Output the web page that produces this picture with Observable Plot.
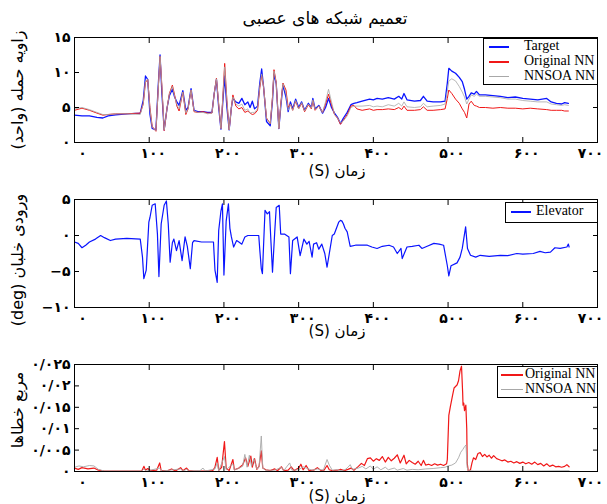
<!DOCTYPE html>
<html><head><meta charset="utf-8">
<script src="https://cdn.jsdelivr.net/npm/d3@7"></script>
<script src="https://cdn.jsdelivr.net/npm/@observablehq/plot@0.6"></script>
<style>
body{margin:0;background:#fff;}
#root{position:relative;width:607px;height:504px;overflow:hidden;background:#fff;}
#root svg{position:absolute;left:0;top:0;}
.fa{position:absolute;font-family:"DejaVu Sans";direction:rtl;white-space:nowrap;color:#000;transform:translate(-50%,-50%);}
.rot{transform:translate(-50%,-50%) rotate(-90deg);}
.leg{position:absolute;border:1px solid #000;background:#fff;font-family:"Liberation Serif";color:#000;box-sizing:border-box;}
.row{position:absolute;left:0;right:0;height:16px;}
.row .ln{position:absolute;top:7px;}
.row .tx{position:absolute;top:-1px;font-size:14px;line-height:16px;white-space:nowrap;}
</style></head><body><div id="root"></div>
<script>
// ---------- data ----------
const t1 = [0,10,20,30,38,45,55,70,88,92,
95,98,101,104,109,112,114.5,117,120,124,
127,131,134,137,140,145,149,152,156,160,
165,172,178,184,187,190,193,196,198,201,
204,207,210,212,216,220,224,228,232,235,
238,241,245,248,250.5,253,257,262,265,267,
270,273.5,276,279,283,286,289,292,296,300,
304,308,313,317,319,322,327,332,336,340,
344,348,352,356,360,365,370,374,378,385,
395,400,405,412,420,428,434,438,441,445,
455,463,467,472,480,490,496,499,501,505,
510,515,519,522,525,528,531,535,538,542,
550,560,570,580,590,600,610,620,632,638,
645,652,656,661];
const target = [3.9,3.8,3.8,3.6,3.5,3.8,3.95,4.1,4.2,6.0,
9.5,9.0,4.0,2.0,1.8,8.0,12.5,7.0,1.8,5.0,
6.7,7.6,6.5,5.8,5.3,7.4,4.6,5.0,7.7,4.6,
4.4,4.4,4.3,4.3,7.0,9.0,5.0,1.9,5.0,9.5,
5.0,1.8,5.0,6.3,5.8,5.6,6.3,5.4,5.8,5.0,
5.9,4.8,5.2,8.5,10.5,8.0,3.0,2.4,6.0,9.8,
8.4,2.0,5.0,8.2,6.5,4.4,5.8,4.8,6.2,5.0,
5.8,4.6,5.6,5.0,6.3,4.8,5.3,4.2,5.0,6.3,
5.0,4.2,3.6,2.7,3.5,4.3,5.4,5.6,5.7,5.9,
6.2,6.1,6.3,6.2,6.4,6.2,6.6,6.2,7.0,6.1,
5.9,6.0,6.6,5.9,5.8,5.8,5.9,8.5,10.6,10.2,
9.9,9.3,8.7,7.6,6.2,6.6,7.1,6.9,7.3,6.8,
6.8,6.7,6.6,6.4,6.5,6.3,6.2,6.1,6.3,5.8,
5.6,5.5,5.7,5.6];
const original = [4.6,4.9,4.6,4.2,3.9,4.0,4.1,4.1,4.2,5.5,
8.6,9.0,5.0,2.3,1.6,7.5,12.3,8.0,1.7,5.0,
7.0,8.2,6.8,5.2,4.5,7.2,4.0,4.8,7.5,4.4,
4.3,4.4,4.2,4.2,7.0,9.2,5.5,2.0,5.5,11.3,
6.0,1.8,5.0,6.8,5.2,4.8,5.0,4.3,4.5,4.2,
4.0,4.1,4.6,7.8,9.6,8.0,3.5,2.7,6.5,10.4,
8.6,2.0,5.5,8.5,7.5,5.0,5.5,4.6,5.9,4.8,
5.6,4.4,5.4,4.8,6.0,4.6,5.2,4.3,5.5,6.9,
5.4,4.0,3.5,2.6,3.2,4.0,5.2,5.3,4.8,4.6,
4.8,4.6,4.7,4.7,4.8,4.7,5.0,4.7,5.2,4.6,
4.6,4.7,5.1,4.6,4.6,4.7,4.8,6.3,7.5,7.0,
6.2,5.6,4.8,4.3,3.5,5.5,5.9,5.3,5.2,5.0,
5.0,4.9,5.0,4.9,4.9,4.8,4.9,4.8,4.7,4.6,
4.6,4.6,4.5,4.5];
const nnsoa = [4.8,5.0,4.7,4.3,4.0,4.0,4.1,4.1,4.0,5.5,
8.8,9.0,4.8,2.2,1.7,7.5,12.3,8.0,1.8,5.0,
6.9,8.0,6.6,5.4,4.8,7.2,4.2,4.8,7.5,4.5,
4.3,4.3,4.1,4.2,7.0,9.1,5.5,2.0,5.5,10.8,
6.0,1.8,5.0,6.5,5.5,5.2,5.5,4.6,4.8,4.2,
4.3,4.3,4.8,8.0,9.8,8.0,3.4,2.7,6.4,10.2,
8.5,2.0,5.2,8.4,7.0,4.6,5.5,4.6,6.0,4.8,
5.7,4.5,5.5,4.9,6.1,4.7,5.2,4.3,5.8,7.6,
5.8,4.0,3.5,2.8,3.1,3.8,5.0,5.2,5.2,5.2,
5.3,5.1,5.2,5.1,5.4,5.2,5.6,5.2,5.8,5.1,
5.0,5.1,5.6,5.1,5.2,5.3,5.5,7.3,8.8,9.1,
8.8,8.0,7.2,6.5,5.5,6.2,6.8,6.6,6.9,6.6,
6.6,6.5,6.4,6.2,6.2,6.0,5.9,5.8,5.8,5.5,
5.4,5.3,5.4,5.3];

const t2 = [0,5,10,15,20,28,35,40,48,55,
70,88,91,92.8,96,99.5,101,104,108,111,
113,116,120,123,125.5,128,131,133,136.5,140,
144,148,151,155,158,160,170,186,188,191,
193,196,198,200,203,206,208,210,213,217,
220,224,228,232,246.6,248,250,251.5,255,258,
261,263,265,268,270,274,276,281,287,289,
292,298,302,307,311,314,318,320,324,327,
331,335,338,342,345,347.7,353.6,356,358,360,
362,365,369,376,382,392,398,405,412,421,
427,432,437,438.6,445,452,461,465,472,481,
488,494,499,501,504,512,516,519,523.5,526,
530,537,543,555,570,580,592,600,614,623,
630,637,643,650,659,661,662];
const elevator = [-0.9,-1.1,-1.7,-1.35,-0.9,-0.5,0,-0.3,-0.7,-0.5,
-0.4,-0.5,-3.0,-6.0,-4.8,1.85,2.5,4.2,4.4,0.2,
-5.7,1.6,4.2,4.8,1.6,-3.7,-1.0,-0.5,-2.1,-0.7,
-3.5,-0.2,-1.5,-4.6,-1.0,-0.7,-0.9,-0.9,-4.8,-6.5,
0.7,3.4,4.4,-5.5,2.0,4.4,1.0,-0.2,-1.6,-0.7,
-0.9,-1.2,-0.2,0,0,-2.0,-4.6,-5.3,3.5,3.0,
3.3,-1.0,-5.1,0.5,3.9,4.2,0.2,0.2,-0.2,-5.3,
-0.7,-0.2,-2.8,-0.5,-1.2,-0.8,-3.0,-1.2,-1.0,-1.9,
-1.2,-2.5,-4.4,-1.9,0,0.2,1.85,2.1,2.0,1.6,
1.0,0.5,-1.5,-1.35,-1.35,-1.35,-1.6,-1.8,-1.5,-1.35,
-1.6,-2.5,-1.8,-3.2,-1.6,-1.5,-1.35,-1.8,-1.5,-1.1,
-1.2,-1.35,-4.2,-5.6,-4.2,-3.8,-3.0,-1.8,1.2,-1.8,
-2.75,-3.0,-2.75,-2.9,-2.75,-2.8,-2.5,-2.6,-2.5,-2.2,
-2.4,-2.3,-1.7,-1.8,-1.6,-1.2,-1.6];

const t3a = [0,5,10,18,26,32,40,60,90,93,
95,98,102,110,114,116,125,130,135,142,
145,150,153,160,175,185,188,191,193,197,
200.7,203,207,212,214,220,225,229,232,236,
238,241,244,247,250,252,256,262,268,272,
277,280,286,290,294,300,303,306,310,314,
320,325,330,334,338,341,345,352,356,361,
366,370,374,380,384,388,392,396,400,404,
408,412,416,420,424,428,432,436,441,444,
448,452,456,460,464,467,470,474,478,482,
486,490,494,498,499,501,503,506,508,512,
514,516,518,519.5,520,521,522,523.8,525,525.6,
527,530,532,534,537,540,543,546,549,552,
555,558,561,565,568,572,576,580,584,588,
592,596,600,604,608,612,616,620,624,628,
632,636,640,644,648,652,656,659,662];
const errOriginal = [0.0008,0.0005,0.0009,0.0006,0.0008,0.0003,0.0001,0.0001,0.0001,0.0012,
0.0003,0.0007,0.0002,0.0003,0.0020,0.0002,0.0002,0.0006,0.0001,0.0009,
0.0002,0.0008,0.0002,0.0001,0.0001,0.0002,0.0010,0.0033,0.0003,0.0010,
0.0070,0.0008,0.0002,0.0028,0.0004,0.0008,0.0015,0.0032,0.0012,0.0036,
0.0010,0.0030,0.0005,0.0012,0.0048,0.0008,0.0004,0.0002,0.0006,0.0002,
0.0011,0.0002,0.0003,0.0011,0.0002,0.0008,0.0017,0.0004,0.0014,0.0002,
0.0003,0.0009,0.0002,0.0003,0.0014,0.0004,0.0002,0.0003,0.0005,0.0002,
0.0005,0.0008,0.0003,0.0012,0.0019,0.0014,0.0030,0.0032,0.0024,0.0030,
0.0026,0.0035,0.0022,0.0033,0.0025,0.0031,0.0039,0.0020,0.0038,0.0018,
0.0026,0.0021,0.0017,0.0024,0.0014,0.0026,0.0015,0.0017,0.0014,0.0018,
0.0015,0.0017,0.0014,0.0018,0.0028,0.0131,0.0151,0.0178,0.0195,0.0202,
0.0212,0.0235,0.0246,0.0185,0.0155,0.0160,0.0142,0.0155,0.0100,0.0020,
0.0001,0.0004,0.0020,0.0032,0.0028,0.0042,0.0044,0.0035,0.0040,0.0034,
0.0038,0.0031,0.0037,0.0030,0.0028,0.0025,0.0027,0.0022,0.0024,0.0020,
0.0023,0.0019,0.0022,0.0018,0.0021,0.0017,0.0022,0.0016,0.0019,0.0013,
0.0018,0.0012,0.0015,0.0011,0.0012,0.0010,0.0012,0.0016,0.0011];
const t3b = [0,6,12,20,26,32,40,90,93,96,
114,117,142,145,150,153,168,172,175,188,
191,193,200.7,203,212,214,225,228,231,234,
237,240,244,247,250,252,256,268,277,280,
288,291,300,306,310,318,325,333,338,341,
345,352,357,362,366,369,372,380,385,390,
396,400,405,410,416,420,428,432,440,445,
452,460,470,480,490,496,500,505,510,514,
517,520,522,524,525.5,527,535,560,600,662];
const errNnsoa = [0.0010,0.0013,0.0011,0.0014,0.0013,0.0005,0.0001,0.0001,0.0006,0.0001,
0.0008,0.0001,0.0006,0.0001,0.0005,0.0001,0.0002,0.0008,0.0001,0.0006,
0.0020,0.0002,0.0035,0.0004,0.0018,0.0003,0.0012,0.0040,0.0010,0.0038,
0.0012,0.0030,0.0006,0.0010,0.0083,0.0008,0.0003,0.0003,0.0010,0.0002,
0.0020,0.0003,0.0004,0.0011,0.0008,0.0003,0.0006,0.0003,0.0028,0.0015,
0.0003,0.0004,0.0002,0.0004,0.0010,0.0016,0.0005,0.0008,0.0012,0.0006,
0.0013,0.0005,0.0011,0.0004,0.0010,0.0004,0.0008,0.0003,0.0007,0.0003,
0.0005,0.0004,0.0006,0.0007,0.0009,0.0010,0.0013,0.0015,0.0020,0.0032,
0.0045,0.0052,0.0058,0.0062,0.0010,0.0002,0.0001,0.0001,0.0001,0.0002];

const xTicks = [0,100,200,300,400,500,600,700];
const xTickLabels = ["۰","۱۰۰","۲۰۰","۳۰۰","۴۰۰","۵۰۰","۶۰۰","۷۰۰"];
const y1Ticks = [0,5,10,15];
const y1TickLabels = ["۰","۵","۱۰","۱۵"];
const y2Ticks = [-10,-5,0,5];
const y2TickLabels = ["−۱۰","−۵","۰","۵"];
const y3Ticks = [0,0.005,0.01,0.015,0.02,0.025];
const y3TickLabels = ["۰","۰/۰۰۵","۰/۰۱","۰/۰۱۵","۰/۰۲","۰/۰۲۵"];

const titleText = "تعمیم شبکه های عصبی";
const xLabelText = "زمان (S)";
const yLabels = ["زاویه حمله (واحد)","ورودی خلبان (deg)","مربع خطاها"];
const legend1 = ["Target","Original NN","NNSOA NN"];
const legend2 = ["Elevator"];
const legend3 = ["Original NN","NNSOA NN"];

const BLUE = "#0a14ff", RED = "#f01818", GRAY = "#a8a8a8";

// ---------- drawing ----------
const root = document.getElementById("root");
const W = 607, H = 504;
const xLab = d => xTickLabels[xTicks.indexOf(d)];

function panel(top, bottom, ydomain, yTicks, yTickLabels, lineMarks) {
  const svg = Plot.plot({
    width: W, height: H,
    marginLeft: 74, marginRight: 10, marginTop: top, marginBottom: H - bottom,
    x: {domain: [0, 700]},
    y: {domain: ydomain},
    style: {fontFamily: "DejaVu Sans", fontSize: "13px", background: "transparent", color: "#000", overflow: "visible"},
    marks: [
      ...lineMarks,
      Plot.frame({stroke: "#000", strokeWidth: 1}),
      Plot.axisX({anchor: "bottom", ticks: xTicks, tickSize: -5, tickFormat: () => "", label: null}),
      Plot.axisX({anchor: "top", ticks: xTicks, tickSize: -5, tickFormat: () => "", label: null}),
      Plot.axisX({anchor: "bottom", ticks: xTicks.slice(0, 1), tickSize: 0, tickPadding: 6, dx: 8, fontWeight: "bold", fontSize: 14, tickFormat: xLab, label: null}),
      Plot.axisX({anchor: "bottom", ticks: xTicks.slice(1, 7), tickSize: 0, tickPadding: 6, dx: 4, fontWeight: "bold", fontSize: 14, tickFormat: xLab, label: null}),
      Plot.axisX({anchor: "bottom", ticks: xTicks.slice(7), tickSize: 0, tickPadding: 6, dx: -7, fontWeight: "bold", fontSize: 14, tickFormat: xLab, label: null}),
      Plot.axisY({anchor: "left", ticks: yTicks, tickSize: -5, tickFormat: () => "", label: null}),
      Plot.axisY({anchor: "right", ticks: yTicks, tickSize: -5, tickFormat: () => "", label: null}),
      Plot.axisY({anchor: "left", ticks: yTicks, tickSize: 0, tickPadding: 4, fontWeight: "bold", fontSize: 14,
        tickFormat: d => yTickLabels[yTicks.indexOf(d)], label: null})
    ]
  });
  root.appendChild(svg);
}

panel(37, 142, [0, 15], y1Ticks, y1TickLabels, [
  Plot.lineY(target, {x: t1, stroke: BLUE, strokeWidth: 1.3}),
  Plot.lineY(original, {x: t1, stroke: RED, strokeWidth: 1}),
  Plot.lineY(nnsoa, {x: t1, stroke: GRAY, strokeWidth: 0.9, strokeOpacity: 0.9})
]);
panel(199, 307, [-10, 5], y2Ticks, y2TickLabels, [
  Plot.lineY(elevator, {x: t2, stroke: BLUE, strokeWidth: 1.2})
]);
panel(364, 471, [0, 0.025], y3Ticks, y3TickLabels, [
  Plot.lineY(errOriginal, {x: t3a, stroke: RED, strokeWidth: 1.2}),
  Plot.lineY(errNnsoa, {x: t3b, stroke: GRAY, strokeWidth: 0.9})
]);

function addText(txt, x, y, size, cls) {
  const d = document.createElement("div");
  d.className = "fa" + (cls ? " " + cls : "");
  d.textContent = txt;
  d.style.left = x + "px"; d.style.top = y + "px"; d.style.fontSize = size + "px";
  root.appendChild(d);
}
addText(titleText, 325, 18, 17);
addText(xLabelText, 337, 171, 15);
addText(xLabelText, 337, 331, 15);
addText(xLabelText, 337, 496, 15);
addText(yLabels[0], 17, 90, 16, "rot");
addText(yLabels[1], 17, 260, 16, "rot");
addText(yLabels[2], 17, 410, 16, "rot");

function addLegend(left, top, width, height, names, colors, widths, rowTops, lineX, textX) {
  const box = document.createElement("div");
  box.className = "leg";
  Object.assign(box.style, {left: left + "px", top: top + "px", width: width + "px", height: height + "px"});
  names.forEach((n, i) => {
    const r = document.createElement("div");
    r.className = "row"; r.style.top = rowTops[i] + "px";
    const ln = document.createElement("div");
    ln.className = "ln";
    Object.assign(ln.style, {left: lineX[0] + "px", width: (lineX[1] - lineX[0]) + "px", height: widths[i] + "px", background: colors[i]});
    const tx = document.createElement("div");
    tx.className = "tx"; tx.textContent = n; tx.style.left = textX + "px";
    r.appendChild(ln); r.appendChild(tx); box.appendChild(r);
  });
  root.appendChild(box);
}
addLegend(483, 38, 115, 47, legend1, [BLUE, RED, GRAY], [2, 1.5, 1], [0, 15, 30], [5, 25], 40);
addLegend(505, 202, 93, 21, legend2, [BLUE], [2], [1], [5, 25], 30);
addLegend(497, 366, 101, 32, legend3, [RED, GRAY], [2, 1], [0, 15], [3, 25], 27);
</script></body></html>
